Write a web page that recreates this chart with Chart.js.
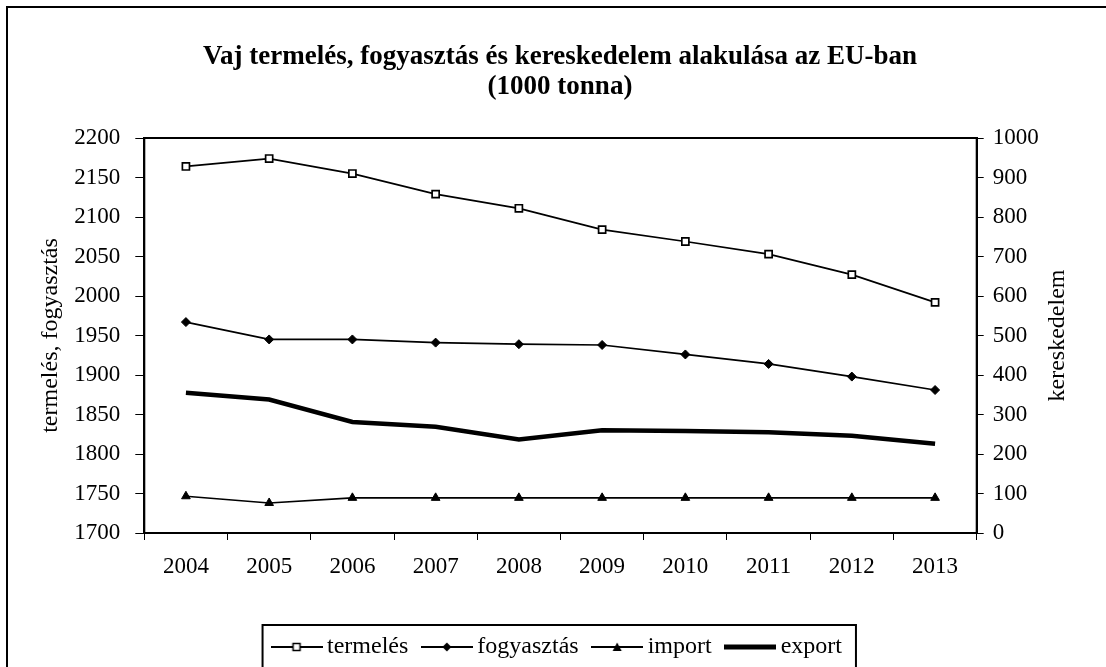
<!DOCTYPE html>
<html>
<head>
<meta charset="utf-8">
<script src="https://cdn.jsdelivr.net/npm/chart.js@4/dist/chart.umd.min.js"></script>
<style>
  html, body { margin: 0; padding: 0; background: #fff; overflow: hidden; }
  #frame {
    position: absolute; left: 6px; top: 6px; width: 1400px; height: 900px;
    border-top: 2px solid #000; border-left: 2px solid #000;
  }
  #wrap { position: absolute; left: 0; top: 0; width: 1106px; height: 680px; }
</style>
</head>
<body>
<div id="frame"></div>
<div id="wrap"><canvas id="chart"></canvas></div>
<script>
const years = ['2004', '2005', '2006', '2007', '2008', '2009', '2010', '2011', '2012', '2013'];
const termeles = [2164, 2174, 2155, 2129, 2111, 2084, 2069, 2053, 2027, 1992];
const fogyasztas = [1967, 1945, 1945, 1941, 1939, 1938, 1926, 1914, 1898, 1881];
const importData = [93, 76, 89, 89, 89, 89, 89, 89, 89, 89];
const exportData = [355, 338, 281, 269, 237, 260, 258, 255, 246, 226];

const SERIF = '"Liberation Serif", "Times New Roman", serif';

// small line+marker images for the legend
function sample(style, lineW) {
  const c = document.createElement('canvas');
  c.width = 52; c.height = 14;
  const g = c.getContext('2d');
  g.strokeStyle = '#000';
  g.lineWidth = lineW;
  g.beginPath(); g.moveTo(0, 7); g.lineTo(52, 7); g.stroke();
  g.lineWidth = 1.5;
  if (style === 'rect') {
    g.fillStyle = '#fff';
    g.fillRect(22.5, 3.5, 7, 7); g.strokeRect(22.5, 3.5, 7, 7);
  } else if (style === 'diamond') {
    g.fillStyle = '#000';
    g.beginPath(); g.moveTo(26, 2.5); g.lineTo(30.5, 7); g.lineTo(26, 11.5); g.lineTo(21.5, 7); g.closePath(); g.fill();
  } else if (style === 'triangle') {
    g.fillStyle = '#000';
    g.beginPath(); g.moveTo(26, 2.5); g.lineTo(30.5, 11); g.lineTo(21.5, 11); g.closePath(); g.fill();
  }
  return c;
}

const legendSamples = [sample('rect', 2), sample('diamond', 2), sample('triangle', 2), sample('none', 5)];

const framePlugin = {
  id: 'framePlugin',
  afterDraw(chart) {
    const ctx = chart.ctx;
    const a = chart.chartArea;
    ctx.save();
    ctx.strokeStyle = '#000';
    ctx.lineWidth = 2;
    ctx.strokeRect(a.left, a.top, a.right - a.left, a.bottom - a.top);

    // right axis title, reading bottom to top
    const r = chart.scales.y1;
    ctx.fillStyle = '#000';
    ctx.font = '24px ' + SERIF;
    ctx.textAlign = 'center';
    ctx.textBaseline = 'middle';
    ctx.translate(r.right - 26, (a.top + a.bottom) / 2);
    ctx.rotate(-Math.PI / 2);
    ctx.fillText('kereskedelem', 0, 0);
    ctx.restore();

    // legend box
    const hb = chart.legend.legendHitBoxes;
    if (hb && hb.length) {
      const first = hb[0], last = hb[hb.length - 1];
      const l = first.left - 7.5 - 8;
      const rr = last.left + last.width + 14;
      const t = first.top + first.height / 2 - 22;
      ctx.save();
      ctx.strokeStyle = '#000';
      ctx.lineWidth = 2;
      ctx.strokeRect(l, t, rr - l, 60);
      ctx.restore();
    }
  }
};

const tickFont = { family: SERIF, size: 23 };

new Chart(document.getElementById('chart'), {
  type: 'line',
  data: {
    labels: years,
    datasets: [{
      label: 'termelés',
      data: termeles,
      yAxisID: 'y',
      borderColor: '#000',
      borderWidth: 1.7,
      pointStyle: 'rect',
      pointRadius: 5,
      pointBackgroundColor: '#fff',
      pointBorderColor: '#000',
      pointBorderWidth: 1.7
    }, {
      label: 'fogyasztás',
      data: fogyasztas,
      yAxisID: 'y',
      borderColor: '#000',
      borderWidth: 1.7,
      pointStyle: 'rectRot',
      pointRadius: 4.5,
      pointBackgroundColor: '#000',
      pointBorderColor: '#000',
      pointBorderWidth: 1
    }, {
      label: 'import',
      data: importData,
      yAxisID: 'y1',
      borderColor: '#000',
      borderWidth: 1.7,
      pointStyle: 'triangle',
      pointRadius: 5,
      pointBackgroundColor: '#000',
      pointBorderColor: '#000',
      pointBorderWidth: 1
    }, {
      label: 'export',
      data: exportData,
      yAxisID: 'y1',
      borderColor: '#000',
      borderWidth: 4.5,
      pointRadius: 0
    }]
  },
  options: {
    responsive: true,
    maintainAspectRatio: false,
    animation: false,
    layout: { padding: { left: 36, right: 22, top: 0, bottom: 11 } },
    elements: { line: { tension: 0 } },
    scales: {
      x: {
        offset: true,
        grid: { offset: true, drawOnChartArea: false, tickLength: 7, color: '#000' },
        border: { color: '#000', width: 2 },
        ticks: { color: '#000', font: tickFont, padding: 13, maxRotation: 0 },
        afterFit(scale) { scale.height = 82; }
      },
      y: {
        position: 'left',
        min: 1700, max: 2200,
        grid: { drawOnChartArea: false, tickLength: 9, color: '#000' },
        border: { color: '#000', width: 2 },
        ticks: { stepSize: 50, color: '#000', font: tickFont, padding: 15, callback: v => String(v) },
        title: { display: true, text: 'termelés, fogyasztás', color: '#000', font: { family: SERIF, size: 24 }, padding: 0 },
        afterFit(scale) { scale.width = 108.3; }
      },
      y1: {
        position: 'right',
        min: 0, max: 1000,
        grid: { drawOnChartArea: false, tickLength: 7, color: '#000' },
        border: { color: '#000', width: 2 },
        ticks: { stepSize: 100, color: '#000', font: tickFont, padding: 9, callback: v => String(v) },
        afterFit(scale) { scale.width = 107.3; }
      }
    },
    plugins: {
      title: {
        display: true,
        text: ['Vaj termelés, fogyasztás és kereskedelem alakulása az EU-ban', '(1000 tonna)'],
        color: '#000',
        font: { family: SERIF, size: 27, weight: 'bold', lineHeight: '30px' },
        padding: { top: 42, bottom: 36 }
      },
      legend: {
        position: 'bottom',
        labels: {
          color: '#000',
          font: { family: SERIF, size: 24 },
          usePointStyle: true,
          pointStyleWidth: 37,
          padding: 20,
          generateLabels(chart) {
            return chart.data.datasets.map((ds, i) => ({
              text: ds.label,
              pointStyle: legendSamples[i],
              fillStyle: '#000',
              strokeStyle: '#000',
              lineWidth: 0,
              hidden: false,
              datasetIndex: i,
              fontColor: '#000'
            }));
          }
        }
      },
      tooltip: { enabled: false }
    }
  },
  plugins: [framePlugin]
});
</script>
</body>
</html>
